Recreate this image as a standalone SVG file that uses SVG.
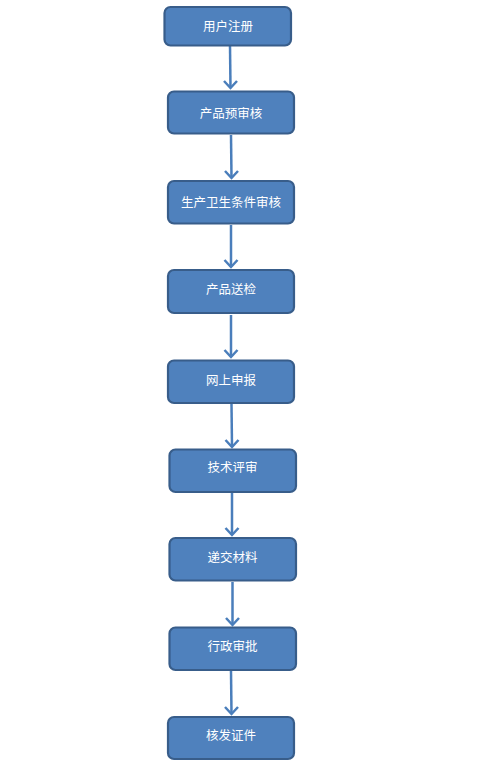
<svg xmlns="http://www.w3.org/2000/svg" width="501" height="762" viewBox="0 0 501 762">
<defs>
<style>
.box{fill:#4F81BD;stroke:#385D8A;stroke-width:2.2}
.lbl{fill:#FFFFFF;font-family:"Noto Sans CJK SC","Liberation Sans",sans-serif;font-size:12.5px;text-anchor:middle}
.arr{stroke:#4A7EBB;stroke-width:2.5;fill:none}
.head{stroke:#4A7EBB;stroke-width:2.5;fill:none;stroke-linejoin:miter}
</style>
</defs>
<rect width="501" height="762" fill="#FFFFFF"/>
<g id="connectors">
<path class="arr" d="M230,46 L230.5,88"/><path class="head" d="M224,81 L230.5,88 L237,81"/>
<path class="arr" d="M231,135 L231.5,178"/><path class="head" d="M225,171 L231.5,178 L238,171"/>
<path class="arr" d="M231,225 L231,267"/><path class="head" d="M224.5,260 L231,267 L237.5,260"/>
<path class="arr" d="M231,315 L231,357"/><path class="head" d="M224.5,350 L231,357 L237.5,350"/>
<path class="arr" d="M231.5,404 L232,447"/><path class="head" d="M225.5,440 L232,447 L238.5,440"/>
<path class="arr" d="M232,493 L232,535"/><path class="head" d="M225.5,528 L232,535 L238.5,528"/>
<path class="arr" d="M232.5,582 L232.5,625"/><path class="head" d="M226,618 L232.5,625 L239,618"/>
<path class="arr" d="M231,671 L231.5,714"/><path class="head" d="M225,707 L231.5,714 L238,707"/>
</g>
<g id="n1"><rect class="box" x="164.5" y="7" width="126.5" height="38.5" rx="6"/><text class="lbl" x="228" y="31">用户注册</text></g>
<g id="n2"><rect class="box" x="168" y="91.5" width="126" height="42" rx="6"/><text class="lbl" x="231" y="118">产品预审核</text></g>
<g id="n3"><rect class="box" x="168" y="181" width="126" height="42.5" rx="6"/><text class="lbl" x="231" y="207">生产卫生条件审核</text></g>
<g id="n4"><rect class="box" x="168" y="270" width="126" height="43" rx="6"/><text class="lbl" x="231" y="294">产品送检</text></g>
<g id="n5"><rect class="box" x="168" y="360.5" width="126" height="42.5" rx="6"/><text class="lbl" x="231" y="385">网上申报</text></g>
<g id="n6"><rect class="box" x="169.5" y="449.5" width="126.5" height="42.5" rx="6"/><text class="lbl" x="232.5" y="472">技术评审</text></g>
<g id="n7"><rect class="box" x="169.5" y="538" width="126.5" height="42.5" rx="6"/><text class="lbl" x="232.5" y="562">递交材料</text></g>
<g id="n8"><rect class="box" x="169.5" y="627.5" width="126.5" height="42.5" rx="6"/><text class="lbl" x="232.5" y="651">行政审批</text></g>
<g id="n9"><rect class="box" x="168" y="717" width="126" height="42" rx="6"/><text class="lbl" x="231" y="740">核发证件</text></g>
</svg>
